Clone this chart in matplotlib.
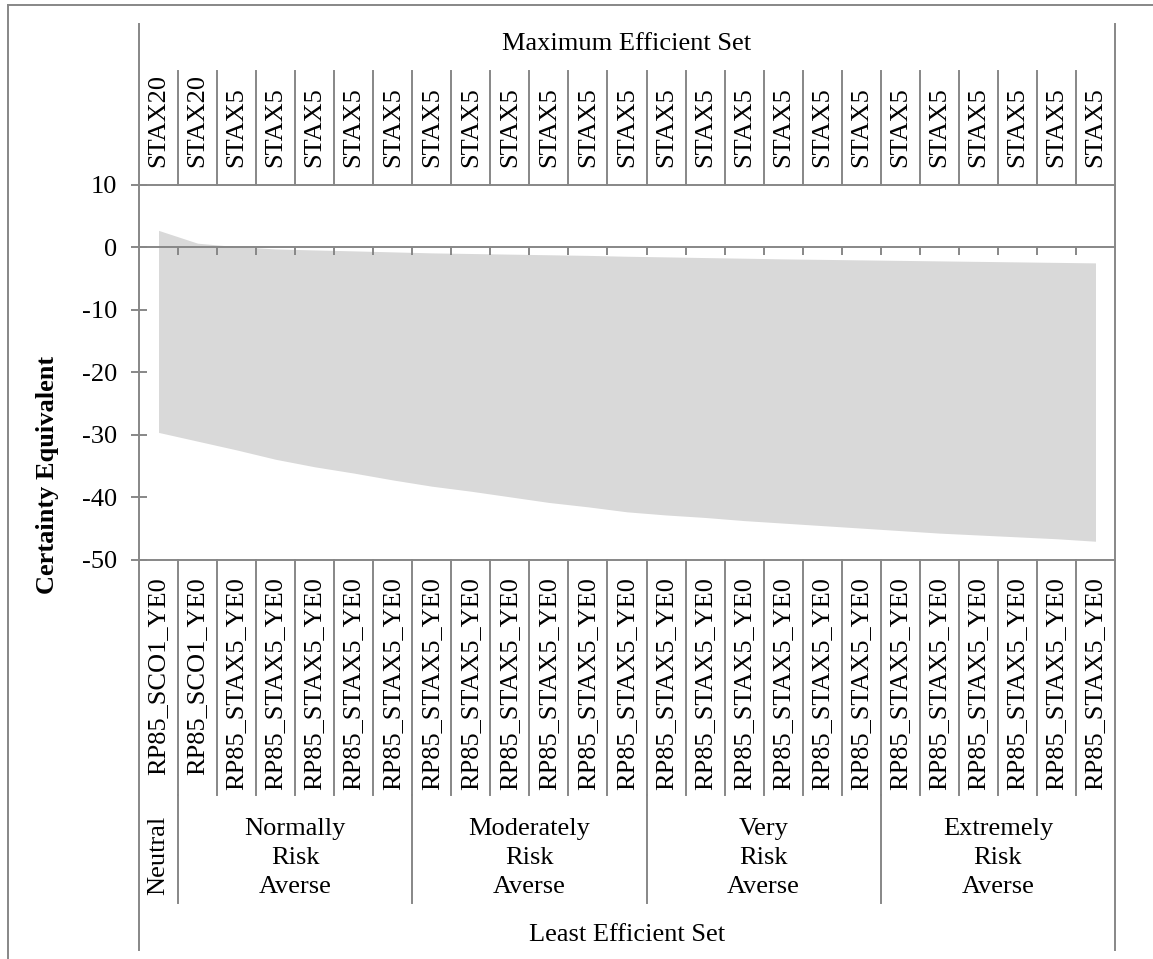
import matplotlib
matplotlib.use("Agg")
import matplotlib.pyplot as plt
from matplotlib.lines import Line2D
import numpy as np

plt.rcParams['font.family'] = ['Liberation Serif', 'DejaVu Serif']

# top axis labels (maximum efficient set) and bottom labels (least efficient set)
top_labels = ['STAX20', 'STAX20'] + ['STAX5'] * 23
bottom_labels = ['RP85_SCO1_YE0', 'RP85_SCO1_YE0'] + ['RP85_STAX5_YE0'] * 23
groups = ['Neutral', 'Normally\nRisk\nAverse', 'Moderately\nRisk\nAverse',
          'Very\nRisk\nAverse', 'Extremely\nRisk\nAverse']
group_sizes = [1, 6, 6, 6, 6]

# certainty equivalents
max_ce = [2.7, 0.65, 0.1, -0.27, -0.43, -0.58, -0.74, -0.9, -1.0, -1.1, -1.2,
          -1.3, -1.44, -1.54, -1.65, -1.75, -1.86, -1.94, -2.02, -2.1, -2.18,
          -2.26, -2.34, -2.42, -2.5]
min_ce = [-29.6, -31.0, -32.4, -33.9, -35.1, -36.1, -37.2, -38.2, -39.0, -39.9,
          -40.8, -41.5, -42.3, -42.8, -43.2, -43.7, -44.1, -44.5, -44.9, -45.3,
          -45.7, -46.0, -46.3, -46.6, -47.0]
yticks = [10, 0, -10, -20, -30, -40, -50]

W, H = 1153, 959
gray = '#878787'
lw = 1.4
fs = 19

fig = plt.figure(figsize=(W / 100, H / 100), dpi=100)
left_px, right_px, top_px, bot_px = 139, 1115, 184.7, 560
ax = fig.add_axes([left_px / W, 1 - bot_px / H, (right_px - left_px) / W,
                   (bot_px - top_px) / H])


def fy(ypx):
    # pixel row -> axes fraction
    return (bot_px - ypx) / (bot_px - top_px)


n = len(max_ce)
x = np.arange(n) + 0.5
ax.fill_between(x, min_ce, max_ce, color='#d9d9d9', lw=0, zorder=1)
ax.set_xlim(0, n)
ax.set_ylim(-50, 10)

for s in ['left', 'right']:
    ax.spines[s].set_visible(False)
ax.spines['bottom'].set_position(('data', 0))
for s in ['bottom', 'top']:
    ax.spines[s].set_color(gray)
    ax.spines[s].set_linewidth(lw)
ax.axhline(-50, color=gray, lw=lw, clip_on=False, zorder=3)

ax.set_xticks(np.arange(1, n))
ax.tick_params(axis='x', direction='out', length=5.8, width=lw, color=gray,
               labelbottom=False)
ax.set_yticks(yticks)
ax.set_yticklabels([str(v) for v in yticks])
ax.tick_params(axis='y', direction='inout', length=11.5, width=lw, color=gray,
               labelsize=fs, pad=10)

tr = ax.get_xaxis_transform()


def vline(xv, y0, y1):
    ax.add_line(Line2D([xv, xv], [y0, y1], transform=tr, color=gray, lw=lw,
                       clip_on=False, zorder=3))


# outer axis lines
vline(0, fy(24), fy(950))
vline(n, fy(24), fy(950))
# column separators top and bottom
for b in range(1, n):
    vline(b, 1, fy(71))
    vline(b, 0, fy(795))
# group separators
edges = np.cumsum(group_sizes)
for b in edges[:-1]:
    vline(b, fy(795), fy(903))

for xi, lab in zip(x, top_labels):
    ax.text(xi, fy(167), lab, transform=tr, rotation=90, ha='center',
            va='bottom', fontsize=fs)
for xi, lab in zip(x, bottom_labels):
    ax.text(xi, fy(577), lab, transform=tr, rotation=90, ha='center',
            va='top', fontsize=fs)

start = 0
for g, sz in zip(groups, group_sizes):
    cx = start + sz / 2
    if sz == 1:
        ax.text(cx, fy(855), g, transform=tr, rotation=90, ha='center',
                va='center', fontsize=fs)
    else:
        ax.text(cx, fy(858), g, transform=tr, ha='center', va='center',
                fontsize=fs, linespacing=1.4, multialignment='center')
    start += sz

ax.text(n / 2, fy(44), 'Maximum Efficient Set', transform=tr, ha='center',
        va='center', fontsize=fs)
ax.text(n / 2, fy(935), 'Least Efficient Set', transform=tr, ha='center',
        va='center', fontsize=fs)

fig.text(48 / W, 1 - 475 / H, 'Certainty Equivalent', rotation=90,
         ha='center', va='center', fontsize=fs, fontweight='bold')

# outer frame of the figure box
fig.add_artist(Line2D([8 / W, 8 / W], [0, 1 - 5 / H], color=gray, lw=lw))
fig.add_artist(Line2D([8 / W, 1], [1 - 5 / H, 1 - 5 / H], color=gray, lw=lw))

fig.savefig('out.png', dpi=100)
